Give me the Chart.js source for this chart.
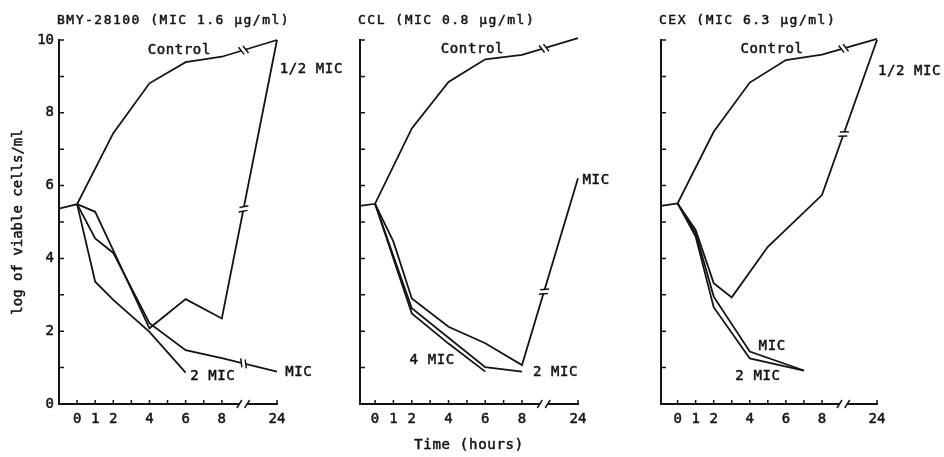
<!DOCTYPE html>
<html>
<head>
<meta charset="utf-8">
<script src="https://cdn.jsdelivr.net/npm/chart.js@4.4.0/dist/chart.umd.min.js"></script>
<style>
  body { margin: 0; background: #fff; }
  .wrap { position: relative; width: 944px; height: 457px; }
  canvas { position: absolute; left: 0; top: 0; }
</style>
</head>
<body>
<div class="wrap">
  <canvas id="bmy" width="944" height="457"></canvas>
  <canvas id="ccl" width="944" height="457"></canvas>
  <canvas id="cex" width="944" height="457"></canvas>
</div>
<script>
// hours on the time axis; 24 h sits just past the axis break
const xTickHours = [0, 1, 2, 4, 6, 8, 24];
const xMinorHours = [0, 1, 2, 3, 4, 5, 6, 7, 8, 24];

// BMY-28100
const bmyCtrlTime = [-1, 0, 2, 4, 6, 8, 24];
const bmyControl = [5.37, 5.49, 7.44, 8.81, 9.39, 9.54, 10.0];
const bmyTime = [0, 1, 2, 4, 6, 8, 24];
const bmyHalfMic = [5.49, 5.28, 4.22, 2.08, 2.88, 2.35, 10.0];
const bmyMic = [5.49, 4.55, 4.15, 2.22, 1.48, 1.26, 0.89];
const bmy2Time = [0, 1, 2, 4, 6];
const bmy2Mic = [5.49, 3.36, 2.86, 1.98, 0.86];

// CCL
const cclCtrlTime = [-0.82, 0, 2, 4, 6, 8, 24];
const cclControl = [5.44, 5.5, 7.57, 8.85, 9.47, 9.59, 10.05];
const cclMicTime = [0, 1, 2, 4, 6, 8, 24];
const cclMic = [5.5, 4.46, 2.9, 2.12, 1.67, 1.07, 6.2];
const ccl2Time = [0, 2, 4, 6, 8];
const ccl2Mic = [5.5, 2.63, 1.82, 1.01, 0.89];
const ccl4Time = [0, 2, 4, 6];
const ccl4Mic = [5.5, 2.49, 1.66, 0.89];

// CEX
const cexCtrlTime = [-0.92, 0, 2, 4, 6, 8, 24];
const cexControl = [5.44, 5.51, 7.48, 8.83, 9.45, 9.6, 10.03];
const cexHalfTime = [0, 1, 2, 3, 5, 8, 24];
const cexHalfMic = [5.51, 4.78, 3.32, 2.93, 4.32, 5.74, 10.0];
const cexTime = [0, 1, 2, 4, 7];
const cexMic = [5.51, 4.7, 2.95, 1.44, 0.92];
const cex2Mic = [5.51, 4.6, 2.66, 1.25, 0.92];

const INK = '#141414';
const MONO = "'DejaVu Sans Mono', 'Liberation Mono', monospace";
const X24 = 11.05;      // where 24 h is put on the broken axis
const BRK = 9.2;        // break marks on the 8 -> 24 h segments
const AXIS_GAP = [8.97, 9.4];

const pos = h => (h === 24 ? X24 : h);

// filled text with a thin outline, closer to the heavy print of the original
function ink(ctx, s, x, y) {
  ctx.fillText(s, x, y);
  ctx.strokeText(s, x, y);
}

const decor = {
  id: 'decor',
  afterDraw(chart, _args, o) {
    const { ctx, chartArea: a, scales: { x, y } } = chart;
    ctx.save();
    ctx.strokeStyle = INK;
    ctx.fillStyle = INK;
    ctx.lineWidth = 1.5;

    // inward tick marks
    ctx.beginPath();
    xMinorHours.forEach(h => {
      const px = x.getPixelForValue(pos(h));
      ctx.moveTo(px, a.bottom);
      ctx.lineTo(px, a.bottom - 4);
    });
    for (let v = 0; v <= 10; v++) {
      const py = y.getPixelForValue(v);
      ctx.moveTo(a.left, py);
      ctx.lineTo(a.left + 5, py);
    }
    ctx.stroke();

    // break in the time axis
    const g0 = x.getPixelForValue(AXIS_GAP[0]), g1 = x.getPixelForValue(AXIS_GAP[1]);
    ctx.clearRect(g0, a.bottom - 3, g1 - g0, 6);
    ctx.beginPath();
    [g0, g1].forEach(gx => {
      ctx.moveTo(gx - 2.5, a.bottom + 4);
      ctx.lineTo(gx + 2.5, a.bottom - 4);
    });
    ctx.stroke();

    // breaks on lines that run on to 24 h
    chart.data.datasets.forEach(ds => {
      const pts = ds.data;
      for (let i = 1; i < pts.length; i++) {
        if (!(pts[i - 1].x < BRK && pts[i].x > BRK)) continue;
        const ax = x.getPixelForValue(pts[i - 1].x), ay = y.getPixelForValue(pts[i - 1].y);
        const bx = x.getPixelForValue(pts[i].x), by = y.getPixelForValue(pts[i].y);
        const px = x.getPixelForValue(BRK);
        const py = ay + (px - ax) / (bx - ax) * (by - ay);
        let dx = bx - ax, dy = by - ay;
        const len = Math.hypot(dx, dy);
        dx /= len; dy /= len;
        ctx.save();
        ctx.globalCompositeOperation = 'destination-out';
        ctx.lineWidth = 4;
        ctx.beginPath();
        ctx.moveTo(px - 2 * dx, py - 2 * dy);
        ctx.lineTo(px + 2 * dx, py + 2 * dy);
        ctx.stroke();
        ctx.restore();
        const ang = Math.atan2(dy, dx) + 1.2;
        const nx = Math.cos(ang), ny = Math.sin(ang);
        ctx.beginPath();
        [-2.3, 2.3].forEach(s => {
          const cx = px + s * dx, cy = py + s * dy;
          ctx.moveTo(cx - 4.5 * nx, cy - 4.5 * ny);
          ctx.lineTo(cx + 4.5 * nx, cy + 4.5 * ny);
        });
        ctx.stroke();
      }
    });

    ctx.lineWidth = 0.5;

    // panel title
    ctx.font = '13px ' + MONO;
    ctx.letterSpacing = '1.5px';
    ctx.textAlign = 'left';
    ctx.textBaseline = 'alphabetic';
    ink(ctx, o.title, a.left - 2, 23.5);

    // curve names
    ctx.font = '14px ' + MONO;
    ctx.letterSpacing = '0.6px';
    ctx.textBaseline = 'middle';
    o.notes.forEach(([s, hx, vy, align]) => {
      ctx.textAlign = align;
      ink(ctx, s, x.getPixelForValue(hx), y.getPixelForValue(vy));
    });

    if (o.yTitle) {
      ctx.save();
      ctx.font = '14px ' + MONO;
      ctx.letterSpacing = '0px';
      ctx.textAlign = 'center';
      ctx.translate(18, (a.top + a.bottom) / 2);
      ctx.rotate(-Math.PI / 2);
      ink(ctx, o.yTitle, 0, 0);
      ctx.restore();
    }
    if (o.xTitle) {
      ctx.font = '14px ' + MONO;
      ctx.letterSpacing = '0.7px';
      ctx.textAlign = 'center';
      ink(ctx, o.xTitle, (a.left + a.right) / 2, 445);
    }
    ctx.restore();
  }
};

function panel(id, series, cfg) {
  const tickFont = { family: MONO, size: 14 };
  return new Chart(document.getElementById(id), {
    type: 'line',
    data: {
      datasets: series.map(([t, v]) => ({
        data: t.map((h, i) => ({ x: pos(h), y: v[i] })),
        borderColor: INK,
        borderWidth: 1.8,
        pointRadius: 0,
        tension: 0,
        fill: false,
        clip: false
      }))
    },
    options: {
      responsive: false,
      animation: false,
      devicePixelRatio: 1,
      events: [],
      layout: { padding: { left: cfg.axisX - 50, right: 944 - cfg.rightX, top: 40, bottom: 0 } },
      plugins: {
        legend: { display: false },
        tooltip: { enabled: false },
        decor: cfg.decor
      },
      scales: {
        x: {
          type: 'linear',
          min: cfg.xMin,
          max: X24,
          grid: { display: false, drawTicks: false },
          border: { display: true, color: INK, width: 2 },
          afterBuildTicks: s => { s.ticks = xTickHours.map(h => ({ value: pos(h) })); },
          afterFit: s => { s.height = 53; },
          ticks: {
            autoSkip: false,
            maxRotation: 0,
            padding: 7,
            color: INK,
            textStrokeColor: INK,
            textStrokeWidth: 0.5,
            font: tickFont,
            callback: (v, i) => String(xTickHours[i])
          }
        },
        y: {
          min: 0,
          max: 10,
          grid: { display: false, drawTicks: false },
          border: { display: true, color: INK, width: 2 },
          afterFit: s => { s.width = 50; },
          ticks: {
            display: cfg.yLabels,
            stepSize: 2,
            padding: 5,
            color: INK,
            textStrokeColor: INK,
            textStrokeWidth: 0.5,
            font: tickFont
          }
        }
      }
    },
    plugins: [decor]
  });
}

panel('bmy',
  [[bmyCtrlTime, bmyControl], [bmyTime, bmyHalfMic], [bmyTime, bmyMic], [bmy2Time, bmy2Mic]],
  {
    axisX: 59, rightX: 277, xMin: -1, yLabels: true,
    decor: {
      title: 'BMY-28100 (MIC 1.6 μg/ml)',
      yTitle: 'log of viable cells/ml',
      notes: [
        ['Control', 5.65, 9.72, 'center'],
        ['1/2 MIC', 11.2, 9.2, 'left'],
        ['MIC', 11.5, 0.88, 'left'],
        ['2 MIC', 6.25, 0.75, 'left']
      ]
    }
  });

panel('ccl',
  [[cclCtrlTime, cclControl], [cclMicTime, cclMic], [ccl2Time, ccl2Mic], [ccl4Time, ccl4Mic]],
  {
    axisX: 360, rightX: 578, xMin: -0.82, yLabels: false,
    decor: {
      title: 'CCL (MIC 0.8 μg/ml)',
      xTitle: 'Time (hours)',
      notes: [
        ['Control', 5.3, 9.73, 'center'],
        ['MIC', 11.3, 6.15, 'left'],
        ['4 MIC', 1.88, 1.19, 'left'],
        ['2 MIC', 8.6, 0.86, 'left']
      ]
    }
  });

panel('cex',
  [[cexCtrlTime, cexControl], [cexHalfTime, cexHalfMic], [cexTime, cexMic], [cexTime, cex2Mic]],
  {
    axisX: 661, rightX: 877, xMin: -0.92, yLabels: false,
    decor: {
      title: 'CEX (MIC 6.3 μg/ml)',
      notes: [
        ['Control', 5.23, 9.74, 'center'],
        ['1/2 MIC', 11.1, 9.13, 'left'],
        ['MIC', 4.49, 1.59, 'left'],
        ['2 MIC', 3.2, 0.77, 'left']
      ]
    }
  });
</script>
</body>
</html>
